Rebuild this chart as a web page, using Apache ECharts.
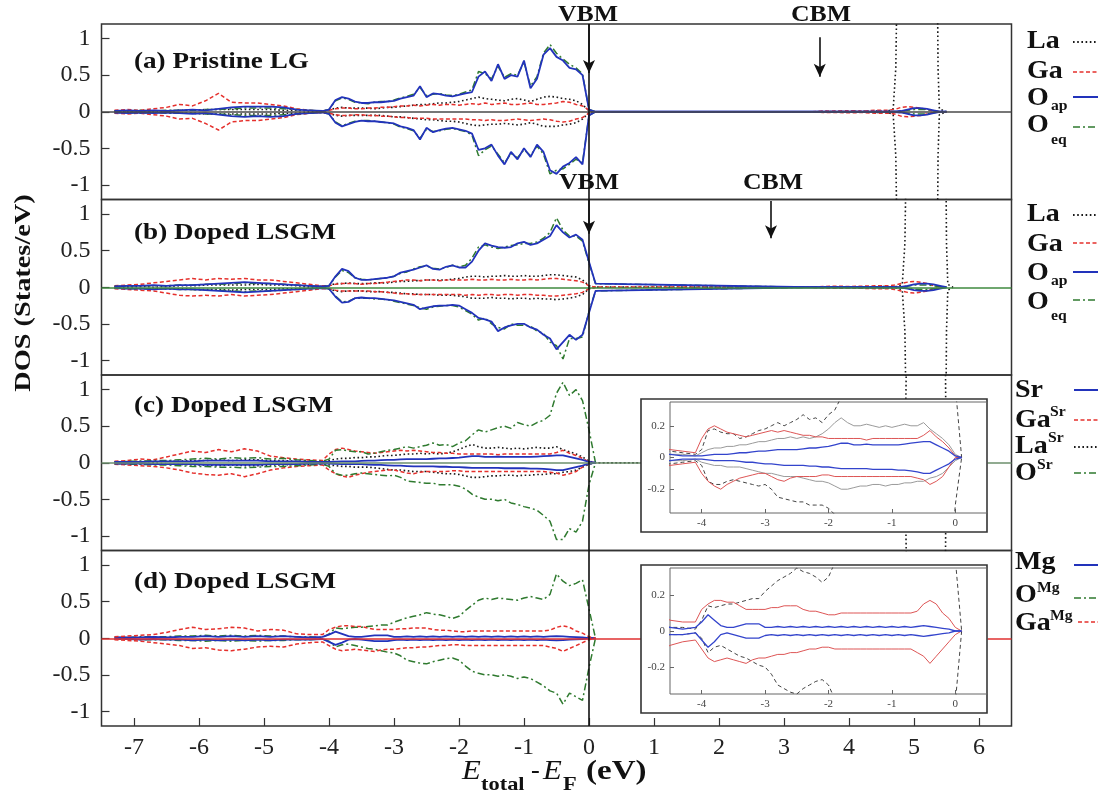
<!DOCTYPE html>
<html><head><meta charset="utf-8">
<script src="https://cdn.jsdelivr.net/npm/echarts@6/dist/echarts.min.js"></script>
<style>html,body{margin:0;padding:0;background:#fff}#c{width:1100px;height:796px}</style>
</head><body><div id="c"></div><script>
// ---------- axes / ticks ----------
const xTicks = [-7,-6,-5,-4,-3,-2,-1,0,1,2,3,4,5,6];
const yTicks = [-1,-0.5,0,0.5,1];
const insetXTicks = [-4,-3,-2,-1,0];
const insetYTicks = [-0.2,0,0.2];
const cbmArrowE = [3.55, 2.8];

// ---------- energy grids ----------
const E_VB = [-7.3,-7.1,-6.9,-6.7,-6.5,-6.3,-6.1,-5.9,-5.7,-5.5,
  -5.3,-5.1,-4.9,-4.7,-4.5,-4.3,-4.1,
  -4.0,-3.9,-3.8,-3.7,-3.6,-3.5,-3.4,-3.3,-3.2,-3.1,
  -3.0,-2.9,-2.8,-2.7,-2.6,-2.5,-2.4,-2.3,-2.2,-2.1,
  -2.0,-1.9,-1.8,-1.7,-1.6,-1.5,-1.4,-1.3,-1.2,-1.1,
  -1.0,-0.9,-0.8,-0.7,-0.6,-0.5,-0.4,-0.3,-0.2,-0.1,
  0.0,0.1];
const E_CB = [3.4,3.6,3.8,4.0,4.2,4.4,4.6,4.7,4.8,4.9,5.0,5.1,5.2,5.3,5.4,5.5];

// ---------- (a) Pristine LG ----------
const aOapUp = [0.01,0.02,0.01,0.02,0.01,0.02,0.03,0.02,0.04,0.06,
  0.07,0.07,0.07,0.06,0.03,0.02,0.01,
  0.03,0.16,0.2,0.18,0.14,0.12,0.12,0.13,0.13,0.14,
  0.15,0.18,0.2,0.22,0.35,0.2,0.25,0.24,0.22,0.21,
  0.23,0.25,0.27,0.48,0.55,0.42,0.65,0.45,0.5,0.48,
  0.7,0.32,0.45,0.78,0.87,0.75,0.7,0.6,0.58,0.5,
  0.03,0];
const aOapDn = [-0.01,-0.02,-0.01,-0.02,-0.01,-0.02,-0.03,-0.02,-0.04,-0.06,
  -0.07,-0.06,-0.07,-0.06,-0.03,-0.02,-0.01,
  -0.03,-0.15,-0.2,-0.17,-0.14,-0.12,-0.13,-0.13,-0.14,-0.15,
  -0.16,-0.2,-0.22,-0.25,-0.38,-0.22,-0.28,-0.25,-0.23,-0.22,
  -0.24,-0.26,-0.3,-0.52,-0.5,-0.45,-0.6,-0.72,-0.55,-0.65,
  -0.5,-0.62,-0.45,-0.55,-0.8,-0.85,-0.75,-0.7,-0.62,-0.72,
  -0.05,0];
const aOeqUp = [0.01,0.01,0.02,0.01,0.02,0.02,0.02,0.03,0.03,0.04,
  0.05,0.05,0.05,0.04,0.03,0.02,0.01,
  0.03,0.15,0.19,0.17,0.13,0.12,0.11,0.13,0.14,0.14,
  0.16,0.19,0.21,0.24,0.33,0.22,0.24,0.25,0.23,0.22,
  0.24,0.27,0.3,0.55,0.52,0.45,0.62,0.47,0.52,0.5,
  0.68,0.35,0.48,0.8,0.92,0.8,0.72,0.65,0.6,0.52,
  0.03,0];
const aOeqDn = [-0.01,-0.01,-0.02,-0.01,-0.02,-0.02,-0.02,-0.03,-0.03,-0.04,
  -0.05,-0.05,-0.05,-0.04,-0.03,-0.02,-0.01,
  -0.03,-0.14,-0.19,-0.16,-0.13,-0.12,-0.12,-0.13,-0.14,-0.15,
  -0.17,-0.21,-0.23,-0.26,-0.36,-0.24,-0.27,-0.26,-0.24,-0.23,
  -0.25,-0.27,-0.32,-0.6,-0.52,-0.47,-0.58,-0.7,-0.57,-0.63,
  -0.52,-0.6,-0.47,-0.58,-0.85,-0.8,-0.78,-0.72,-0.65,-0.7,
  -0.05,0];
const aLaUp = [0.01,0.01,0.01,0.01,0.01,0.02,0.02,0.03,0.03,0.03,
  0.03,0.03,0.03,0.02,0.02,0.01,0.01,
  0.02,0.05,0.06,0.05,0.05,0.05,0.05,0.04,0.05,0.06,
  0.06,0.07,0.08,0.09,0.1,0.1,0.11,0.12,0.12,0.13,
  0.14,0.16,0.18,0.2,0.18,0.17,0.16,0.15,0.17,0.18,
  0.16,0.14,0.17,0.2,0.21,0.2,0.18,0.17,0.15,0.1,
  0.01,0];
const aLaDn = [-0.01,-0.01,-0.01,-0.01,-0.01,-0.02,-0.02,-0.03,-0.03,-0.03,
  -0.03,-0.03,-0.03,-0.02,-0.02,-0.01,-0.01,
  -0.02,-0.05,-0.06,-0.05,-0.05,-0.05,-0.05,-0.05,-0.05,-0.06,
  -0.07,-0.07,-0.08,-0.09,-0.1,-0.11,-0.11,-0.12,-0.13,-0.13,
  -0.14,-0.16,-0.18,-0.19,-0.18,-0.17,-0.17,-0.16,-0.17,-0.18,
  -0.17,-0.15,-0.17,-0.2,-0.2,-0.2,-0.18,-0.17,-0.15,-0.1,
  -0.01,0];
const aGaUp = [0.02,0.03,0.02,0.04,0.06,0.1,0.08,0.15,0.25,0.13,
  0.12,0.12,0.1,0.08,0.04,0.02,0.01,
  0.02,0.04,0.05,0.05,0.04,0.04,0.05,0.05,0.06,0.06,
  0.07,0.08,0.08,0.09,0.08,0.09,0.1,0.09,0.1,0.1,
  0.09,0.1,0.11,0.1,0.12,0.1,0.11,0.12,0.1,0.1,
  0.11,0.12,0.1,0.1,0.11,0.12,0.14,0.13,0.1,0.08,
  0.02,0];
const aGaDn = [-0.02,-0.03,-0.02,-0.04,-0.06,-0.1,-0.09,-0.16,-0.25,-0.14,
  -0.12,-0.12,-0.1,-0.08,-0.04,-0.02,-0.01,
  -0.02,-0.04,-0.05,-0.05,-0.04,-0.04,-0.05,-0.05,-0.06,-0.06,
  -0.07,-0.08,-0.08,-0.09,-0.09,-0.09,-0.1,-0.1,-0.1,-0.1,
  -0.1,-0.1,-0.11,-0.11,-0.12,-0.11,-0.12,-0.12,-0.11,-0.1,
  -0.11,-0.12,-0.11,-0.1,-0.11,-0.13,-0.14,-0.13,-0.1,-0.08,
  -0.02,0];
const aGaCBUp = [0,0.01,0.01,0.015,0.01,0.02,0.02,0.03,0.06,0.07,0.06,0.05,0.03,0.01,0,0];
const aGaCBDn = [0,-0.01,-0.01,-0.015,-0.01,-0.02,-0.02,-0.03,-0.06,-0.07,-0.06,-0.05,-0.03,-0.01,0,0];
const aOapCBUp = [0,0,0,0,0,0,0,0.005,0.01,0.03,0.05,0.05,0.04,0.02,0,0];
const aOapCBDn = [0,0,0,0,0,0,0,-0.005,-0.01,-0.03,-0.05,-0.05,-0.04,-0.02,0,0];
const aOeqCBUp = [0,0,0,0,0,0,0,0.005,0.01,0.02,0.03,0.03,0.03,0.015,0,0];
const aOeqCBDn = [0,0,0,0,0,0,0,-0.005,-0.01,-0.02,-0.03,-0.03,-0.03,-0.015,0,0];
const aLaCB_E = [3.4,4.0,4.6,4.68,4.72,4.76,5.35,5.37,5.39,5.5];
const aLaCBUp = [0,0.005,0.01,0.04,0.6,3,3,0.6,0.04,0];
const aLaCBDn = [0,-0.005,-0.01,-0.04,-0.6,-3,-3,-0.6,-0.04,0];

// ---------- (b) Doped LSGM ----------
const bOapUp = [0.01,0.02,0.02,0.03,0.02,0.03,0.03,0.04,0.05,0.06,
  0.07,0.06,0.05,0.04,0.03,0.02,0.01,
  0.02,0.15,0.25,0.22,0.13,0.1,0.1,0.11,0.12,0.13,
  0.15,0.2,0.22,0.24,0.27,0.3,0.25,0.24,0.28,0.3,
  0.27,0.27,0.35,0.5,0.6,0.57,0.55,0.54,0.55,0.6,
  0.62,0.58,0.6,0.65,0.7,0.85,0.75,0.68,0.72,0.65,
  0.35,0.05];
const bOapDn = [-0.01,-0.02,-0.02,-0.03,-0.02,-0.03,-0.03,-0.04,-0.05,-0.06,
  -0.07,-0.06,-0.05,-0.04,-0.03,-0.02,-0.01,
  -0.02,-0.13,-0.21,-0.2,-0.15,-0.14,-0.15,-0.15,-0.16,-0.17,
  -0.18,-0.2,-0.22,-0.24,-0.3,-0.28,-0.26,-0.25,-0.25,-0.24,
  -0.25,-0.3,-0.35,-0.42,-0.44,-0.47,-0.6,-0.55,-0.52,-0.5,
  -0.5,-0.55,-0.58,-0.65,-0.7,-0.85,-0.75,-0.65,-0.72,-0.65,
  -0.35,-0.05];
const bOeqUp = [0.01,0.02,0.02,0.02,0.02,0.03,0.03,0.04,0.04,0.05,
  0.06,0.05,0.05,0.04,0.03,0.02,0.01,
  0.02,0.14,0.23,0.2,0.13,0.11,0.1,0.11,0.12,0.13,
  0.15,0.19,0.21,0.25,0.28,0.29,0.26,0.25,0.27,0.3,
  0.28,0.3,0.4,0.55,0.58,0.55,0.53,0.55,0.57,0.58,
  0.6,0.6,0.62,0.67,0.75,0.95,0.78,0.7,0.7,0.63,
  0.33,0.05];
const bOeqDn = [-0.01,-0.02,-0.02,-0.02,-0.02,-0.03,-0.03,-0.04,-0.04,-0.05,
  -0.06,-0.05,-0.05,-0.04,-0.03,-0.02,-0.01,
  -0.02,-0.12,-0.2,-0.19,-0.15,-0.15,-0.15,-0.16,-0.16,-0.17,
  -0.19,-0.21,-0.23,-0.25,-0.28,-0.3,-0.27,-0.26,-0.25,-0.25,
  -0.27,-0.32,-0.37,-0.45,-0.42,-0.5,-0.55,-0.57,-0.5,-0.52,
  -0.52,-0.53,-0.6,-0.63,-0.75,-0.8,-0.98,-0.7,-0.7,-0.68,
  -0.33,-0.05];
const bLaUp = [0.01,0.01,0.01,0.02,0.01,0.02,0.02,0.03,0.03,0.03,
  0.03,0.04,0.03,0.03,0.02,0.01,0.01,
  0.02,0.05,0.05,0.06,0.05,0.05,0.05,0.06,0.06,0.06,
  0.07,0.08,0.08,0.09,0.09,0.1,0.1,0.1,0.1,0.11,
  0.12,0.14,0.15,0.15,0.14,0.15,0.15,0.16,0.15,0.15,
  0.16,0.15,0.15,0.16,0.17,0.17,0.16,0.15,0.14,0.1,
  0.02,0];
const bLaDn = [-0.01,-0.01,-0.02,-0.01,-0.02,-0.02,-0.03,-0.03,-0.03,-0.04,
  -0.03,-0.03,-0.03,-0.02,-0.02,-0.01,-0.01,
  -0.02,-0.05,-0.06,-0.05,-0.05,-0.05,-0.06,-0.06,-0.06,-0.07,
  -0.07,-0.08,-0.09,-0.09,-0.1,-0.1,-0.1,-0.11,-0.11,-0.11,
  -0.12,-0.13,-0.15,-0.15,-0.15,-0.14,-0.15,-0.15,-0.16,-0.15,
  -0.15,-0.16,-0.15,-0.16,-0.16,-0.17,-0.16,-0.15,-0.13,-0.1,
  -0.02,0];
const bGaUp = [0.02,0.03,0.04,0.06,0.08,0.1,0.12,0.1,0.12,0.11,
  0.12,0.1,0.1,0.08,0.06,0.04,0.02,
  0.02,0.04,0.05,0.05,0.05,0.04,0.05,0.05,0.06,0.07,
  0.08,0.09,0.1,0.1,0.09,0.1,0.1,0.09,0.1,0.1,
  0.1,0.1,0.11,0.1,0.1,0.11,0.1,0.1,0.11,0.1,
  0.1,0.11,0.1,0.11,0.12,0.12,0.11,0.1,0.09,0.07,
  0.02,0];
const bGaDn = [-0.02,-0.03,-0.04,-0.05,-0.08,-0.11,-0.12,-0.11,-0.12,-0.1,
  -0.12,-0.11,-0.1,-0.08,-0.06,-0.04,-0.02,
  -0.02,-0.04,-0.05,-0.05,-0.05,-0.05,-0.05,-0.06,-0.06,-0.07,
  -0.08,-0.09,-0.09,-0.1,-0.1,-0.1,-0.1,-0.1,-0.1,-0.1,
  -0.1,-0.11,-0.1,-0.11,-0.1,-0.1,-0.11,-0.1,-0.1,-0.11,
  -0.1,-0.1,-0.11,-0.11,-0.12,-0.12,-0.11,-0.1,-0.09,-0.07,
  -0.02,0];
const bGaCBUp = [0,0.01,0.015,0.01,0.015,0.02,0.02,0.03,0.05,0.07,0.08,0.07,0.05,0.02,0.01,0];
const bGaCBDn = [0,-0.01,-0.015,-0.01,-0.015,-0.02,-0.02,-0.03,-0.05,-0.07,-0.08,-0.07,-0.05,-0.02,-0.01,0];
const bOapCBUp = [0,0,0,0,0,0,0,0,0.005,0.02,0.04,0.05,0.05,0.04,0.02,0];
const bOapCBDn = [0,0,0,0,0,0,0,0,-0.005,-0.02,-0.04,-0.05,-0.05,-0.04,-0.02,0];
const bOeqCBUp = [0,0,0,0,0,0,0,0,0.005,0.015,0.03,0.03,0.03,0.02,0.01,0];
const bOeqCBDn = [0,0,0,0,0,0,0,0,-0.005,-0.015,-0.03,-0.03,-0.03,-0.02,-0.01,0];
const bLaCB_E = [3.6,4.2,4.75,4.82,4.86,4.9,5.48,5.5,5.52,5.6];
const bLaCBUp = [0,0.005,0.01,0.04,0.6,3,3,0.6,0.04,0];
const bLaCBDn = [0,-0.005,-0.01,-0.04,-0.6,-3,-3,-0.6,-0.04,0];

// ---------- (c) Doped LSGM, Sr site ----------
const cSrUp = [0.01,0.01,0.01,0.02,0.02,0.02,0.02,0.03,0.03,0.03,
  0.03,0.03,0.02,0.02,0.02,0.01,0.01,
  0.01,0.015,0.02,0.02,0.02,0.025,0.03,0.03,0.035,0.04,
  0.04,0.045,0.05,0.05,0.05,0.05,0.055,0.06,0.06,0.065,
  0.07,0.08,0.09,0.09,0.08,0.08,0.085,0.08,0.08,0.08,
  0.08,0.08,0.085,0.09,0.095,0.1,0.1,0.08,0.06,0.04,
  0.01,0];
const cSrDn = [-0.01,-0.01,-0.01,-0.02,-0.02,-0.02,-0.02,-0.03,-0.03,-0.03,
  -0.03,-0.03,-0.02,-0.02,-0.02,-0.01,-0.01,
  -0.01,-0.015,-0.02,-0.02,-0.02,-0.02,-0.025,-0.03,-0.03,-0.035,
  -0.04,-0.04,-0.045,-0.05,-0.05,-0.05,-0.05,-0.055,-0.055,-0.06,
  -0.06,-0.065,-0.07,-0.07,-0.07,-0.07,-0.07,-0.075,-0.075,-0.075,
  -0.075,-0.08,-0.08,-0.085,-0.09,-0.1,-0.1,-0.08,-0.06,-0.04,
  -0.01,0];
const cGaUp = [0.02,0.03,0.05,0.04,0.08,0.12,0.16,0.14,0.18,0.15,
  0.19,0.16,0.09,0.07,0.05,0.04,0.03,
  0.12,0.18,0.2,0.18,0.16,0.15,0.14,0.13,0.14,0.15,
  0.16,0.17,0.16,0.17,0.16,0.15,0.14,0.14,0.13,0.13,
  0.12,0.12,0.12,0.12,0.12,0.12,0.11,0.12,0.12,0.12,
  0.12,0.12,0.12,0.12,0.12,0.14,0.17,0.13,0.1,0.06,
  0.01,0];
const cGaDn = [-0.02,-0.03,-0.04,-0.05,-0.07,-0.1,-0.14,-0.16,-0.17,-0.15,
  -0.19,-0.15,-0.1,-0.07,-0.05,-0.04,-0.03,
  -0.1,-0.15,-0.18,-0.2,-0.17,-0.15,-0.13,-0.12,-0.11,-0.1,
  -0.1,-0.12,-0.14,-0.15,-0.13,-0.12,-0.12,-0.12,-0.12,-0.11,
  -0.11,-0.12,-0.12,-0.12,-0.12,-0.12,-0.12,-0.12,-0.12,-0.12,
  -0.12,-0.12,-0.12,-0.12,-0.13,-0.14,-0.17,-0.15,-0.12,-0.06,
  0,0];
const cLaUp = [0.01,0.01,0.02,0.01,0.02,0.02,0.03,0.03,0.04,0.03,
  0.04,0.04,0.03,0.03,0.02,0.02,0.01,
  0.03,0.05,0.06,0.06,0.07,0.07,0.08,0.08,0.09,0.1,
  0.1,0.11,0.12,0.12,0.13,0.12,0.13,0.12,0.13,0.15,
  0.18,0.22,0.25,0.22,0.2,0.2,0.21,0.2,0.19,0.2,
  0.19,0.2,0.21,0.2,0.2,0.22,0.18,0.15,0.12,0.08,
  0.02,0];
const cLaDn = [-0.01,-0.01,-0.02,-0.01,-0.02,-0.02,-0.03,-0.03,-0.04,-0.03,
  -0.04,-0.04,-0.03,-0.03,-0.02,-0.02,-0.01,
  -0.03,-0.04,-0.05,-0.05,-0.06,-0.06,-0.06,-0.07,-0.08,-0.09,
  -0.1,-0.1,-0.11,-0.12,-0.12,-0.12,-0.13,-0.14,-0.15,-0.15,
  -0.16,-0.18,-0.2,-0.2,-0.19,-0.18,-0.18,-0.17,-0.17,-0.18,
  -0.17,-0.17,-0.16,-0.16,-0.15,-0.15,-0.13,-0.12,-0.1,-0.06,
  -0.02,0];
const cOUp = [0.01,0.02,0.02,0.03,0.03,0.04,0.05,0.06,0.05,0.07,
  0.06,0.07,0.05,0.06,0.04,0.03,0.02,
  0.05,0.17,0.18,0.16,0.15,0.15,0.12,0.13,0.15,0.17,
  0.18,0.2,0.22,0.2,0.22,0.24,0.27,0.24,0.25,0.22,
  0.27,0.3,0.38,0.45,0.42,0.45,0.48,0.5,0.47,0.55,
  0.52,0.5,0.55,0.58,0.65,0.95,1.1,0.92,1.0,0.85,
  0.45,0];
const cODn = [-0.01,-0.02,-0.02,-0.03,-0.03,-0.04,-0.05,-0.05,-0.06,-0.06,
  -0.07,-0.06,-0.05,-0.05,-0.04,-0.03,-0.02,
  -0.05,-0.15,-0.17,-0.17,-0.15,-0.14,-0.15,-0.16,-0.17,-0.18,
  -0.17,-0.2,-0.25,-0.26,-0.27,-0.28,-0.28,-0.3,-0.3,-0.3,
  -0.32,-0.36,-0.43,-0.47,-0.5,-0.5,-0.52,-0.5,-0.55,-0.57,
  -0.6,-0.62,-0.65,-0.72,-0.8,-1.05,-1.05,-0.9,-0.95,-0.8,
  -0.3,0];
const cLaCB_E = [3.6,4.2,4.75,4.83,4.87,4.91,5.47,5.49,5.51,5.6];
const cLaCBUp = [0,0.005,0.01,0.04,0.6,3,3,0.6,0.04,0];
const cLaCBDn = [0,-0.005,-0.01,-0.04,-0.6,-3,-3,-0.6,-0.04,0];

// ---------- (d) Doped LSGM, Mg site ----------
const dMgUp = [0.01,0.01,0.01,0.02,0.01,0.02,0.02,0.03,0.02,0.03,
  0.02,0.03,0.02,0.03,0.02,0.01,0.02,
  0.05,0.09,0.06,0.03,0.02,0.02,0.03,0.04,0.04,0.04,
  0.02,0.02,0.025,0.02,0.025,0.02,0.025,0.02,0.025,0.02,
  0.025,0.02,0.025,0.02,0.025,0.02,0.025,0.02,0.025,0.02,
  0.025,0.02,0.025,0.02,0.025,0.03,0.025,0.02,0.015,0.01,
  0,0];
const dMgDn = [-0.01,-0.01,-0.02,-0.01,-0.02,-0.02,-0.03,-0.02,-0.03,-0.02,
  -0.03,-0.02,-0.03,-0.02,-0.02,-0.02,-0.01,
  -0.05,-0.09,-0.06,-0.02,-0.01,-0.02,-0.03,-0.04,-0.04,-0.04,
  -0.025,-0.02,-0.025,-0.02,-0.025,-0.02,-0.025,-0.02,-0.025,-0.02,
  -0.025,-0.02,-0.025,-0.02,-0.025,-0.02,-0.025,-0.02,-0.025,-0.02,
  -0.025,-0.02,-0.025,-0.02,-0.025,-0.03,-0.025,-0.02,-0.015,-0.01,
  0,0];
const dOUp = [0.01,0.01,0.02,0.02,0.02,0.03,0.03,0.04,0.03,0.04,
  0.03,0.04,0.03,0.03,0.02,0.02,0.01,
  0.06,0.14,0.13,0.14,0.15,0.15,0.16,0.17,0.18,0.18,
  0.22,0.25,0.28,0.3,0.32,0.35,0.33,0.32,0.3,0.27,
  0.3,0.38,0.45,0.52,0.55,0.53,0.55,0.54,0.53,0.52,
  0.55,0.57,0.55,0.53,0.6,0.88,0.78,0.72,0.75,0.8,
  0.4,0];
const dODn = [-0.01,-0.01,-0.02,-0.02,-0.02,-0.03,-0.03,-0.04,-0.03,-0.04,
  -0.03,-0.04,-0.03,-0.03,-0.02,-0.02,-0.01,
  -0.04,-0.12,-0.09,-0.08,-0.1,-0.12,-0.14,-0.15,-0.17,-0.19,
  -0.2,-0.24,-0.3,-0.32,-0.34,-0.35,-0.32,-0.3,-0.28,-0.27,
  -0.3,-0.38,-0.45,-0.48,-0.5,-0.5,-0.52,-0.5,-0.52,-0.55,
  -0.53,-0.55,-0.6,-0.65,-0.72,-0.75,-0.9,-0.75,-0.8,-0.85,
  -0.4,0];
const dGaUp = [0.02,0.03,0.04,0.05,0.08,0.12,0.15,0.12,0.13,0.15,
  0.14,0.1,0.12,0.11,0.06,0.05,0.05,
  0.12,0.15,0.17,0.17,0.16,0.16,0.14,0.12,0.12,0.12,
  0.12,0.13,0.13,0.14,0.14,0.14,0.12,0.11,0.11,0.1,
  0.09,0.09,0.1,0.1,0.1,0.1,0.1,0.1,0.1,0.1,
  0.1,0.1,0.1,0.1,0.11,0.15,0.17,0.15,0.1,0.07,
  0.02,0];
const dGaDn = [-0.02,-0.03,-0.04,-0.06,-0.08,-0.1,-0.14,-0.13,-0.16,-0.17,
  -0.15,-0.12,-0.11,-0.12,-0.08,-0.06,-0.05,
  -0.1,-0.15,-0.17,-0.16,-0.15,-0.16,-0.17,-0.18,-0.16,-0.15,
  -0.15,-0.14,-0.13,-0.13,-0.12,-0.12,-0.11,-0.1,-0.1,-0.09,
  -0.09,-0.1,-0.1,-0.1,-0.1,-0.1,-0.1,-0.1,-0.1,-0.1,
  -0.1,-0.1,-0.1,-0.1,-0.12,-0.14,-0.18,-0.14,-0.1,-0.06,
  -0.02,0];

// ---------- font detection ----------
function hasFont(f) {
  const c = document.createElement('canvas').getContext('2d');
  const s = 'mmmmmiiiiilWW@#0.5';
  c.font = '40px monospace'; const w0 = c.measureText(s).width;
  c.font = '40px "' + f + '", monospace'; const w1 = c.measureText(s).width;
  c.font = '40px sans-serif'; const w2 = c.measureText(s).width;
  c.font = '40px "' + f + '", sans-serif'; const w3 = c.measureText(s).width;
  return w0 !== w1 || w2 !== w3;
}
const cands = ['Liberation Serif','Times New Roman','Tinos','Nimbus Roman','Nimbus Roman No9 L','FreeSerif','DejaVu Serif'];
let FAM = 'DejaVu Serif';
for (const f of cands) { if (hasFont(f)) { FAM = f; break; } }
const WIDE = (FAM === 'DejaVu Serif');
const K = WIDE ? 0.84 : 1;           // width compensation for wide fallback font
const FONT = '"' + FAM + '", serif';
const TICKFS = WIDE ? 21 : 24;

// ---------- build ----------
const pts = (E, v) => E.map((e, i) => [e, v[i]]);
const ST = {
  La:  {color:'#1a1a1a', type:[1.6,2.6], width:1.6},
  Ga:  {color:'#e5302c', type:[4,2.5], width:1.5},
  Oap: {color:'#2233bb', type:'solid', width:1.8},
  Oeq: {color:'#2f7a2f', type:[7,3,2,3], width:1.5},
  iO:  {color:'#444444', type:[4,3], width:1},
  iLa: {color:'#9a9a9a', type:'solid', width:1},
  iGa: {color:'#dd5555', type:'solid', width:1},
  iSr: {color:'#3344cc', type:'solid', width:1.3}
};
function ser(gi, data, st, z) {
  return {type:'line', xAxisIndex:gi, yAxisIndex:gi, data, symbol:'none', showSymbol:false,
    lineStyle:{color:st.color, type:st.type, width:st.width}, itemStyle:{color:st.color},
    z: z || 2, silent:true, animation:false};
}
function deco(gi, markData, z, opts) {
  return {type:'line', xAxisIndex:gi, yAxisIndex:gi, data:[], z: z || 3, silent:true, animation:false,
    markLine: Object.assign({silent:true, symbol:'none', label:{show:false}, animation:false, data:markData}, opts || {})};
}
const series = [];
// panel a
series.push(ser(0, pts(E_VB,aLaUp).concat(pts(aLaCB_E,aLaCBUp)), ST.La));
series.push(ser(0, pts(E_VB,aLaDn).concat(pts(aLaCB_E,aLaCBDn)), ST.La));
series.push(ser(0, pts(E_VB,aGaUp).concat(pts(E_CB,aGaCBUp)), ST.Ga));
series.push(ser(0, pts(E_VB,aGaDn).concat(pts(E_CB,aGaCBDn)), ST.Ga));
series.push(ser(0, pts(E_VB,aOeqUp).concat(pts(E_CB,aOeqCBUp)), ST.Oeq));
series.push(ser(0, pts(E_VB,aOeqDn).concat(pts(E_CB,aOeqCBDn)), ST.Oeq));
series.push(ser(0, pts(E_VB,aOapUp).concat(pts(E_CB,aOapCBUp)), ST.Oap));
series.push(ser(0, pts(E_VB,aOapDn).concat(pts(E_CB,aOapCBDn)), ST.Oap));
// panel b
series.push(ser(1, pts(E_VB,bLaUp).concat(pts(bLaCB_E,bLaCBUp)), ST.La));
series.push(ser(1, pts(E_VB,bLaDn).concat(pts(bLaCB_E,bLaCBDn)), ST.La));
series.push(ser(1, pts(E_VB,bGaUp).concat(pts(E_CB,bGaCBUp)), ST.Ga));
series.push(ser(1, pts(E_VB,bGaDn).concat(pts(E_CB,bGaCBDn)), ST.Ga));
series.push(ser(1, pts(E_VB,bOeqUp).concat(pts(E_CB,bOeqCBUp)), ST.Oeq));
series.push(ser(1, pts(E_VB,bOeqDn).concat(pts(E_CB,bOeqCBDn)), ST.Oeq));
series.push(ser(1, pts(E_VB,bOapUp).concat(pts(E_CB,bOapCBUp)), ST.Oap));
series.push(ser(1, pts(E_VB,bOapDn).concat(pts(E_CB,bOapCBDn)), ST.Oap));
// panel c
series.push(ser(2, pts(E_VB,cLaUp).concat(pts(cLaCB_E,cLaCBUp)), ST.La));
series.push(ser(2, pts(E_VB,cLaDn).concat(pts(cLaCB_E,cLaCBDn)), ST.La));
series.push(ser(2, pts(E_VB,cGaUp), ST.Ga));
series.push(ser(2, pts(E_VB,cGaDn), ST.Ga));
series.push(ser(2, pts(E_VB,cOUp), ST.Oeq));
series.push(ser(2, pts(E_VB,cODn), ST.Oeq));
series.push(ser(2, pts(E_VB,cSrUp), ST.Oap));
series.push(ser(2, pts(E_VB,cSrDn), ST.Oap));
// panel d
series.push(ser(3, pts(E_VB,dOUp), ST.Oeq));
series.push(ser(3, pts(E_VB,dODn), ST.Oeq));
series.push(ser(3, pts(E_VB,dMgUp), ST.Oap));
series.push(ser(3, pts(E_VB,dMgDn), ST.Oap));
series.push(ser(3, pts(E_VB,dGaUp), ST.Ga));
series.push(ser(3, pts(E_VB,dGaDn), ST.Ga));
// zero lines + VBM line
const zeroCols = ['#4a4a4a','#3f8a3f','#6d8f6d','#e03030'];
for (let g = 0; g < 4; g++) {
  series.push(deco(g, [
    {yAxis:0, lineStyle:{color:zeroCols[g], width:1.6, type:'solid'}},
    {xAxis:0, lineStyle:{color:'#111', width:1.6, type:'solid'}}
  ], 4));
}
// VBM / CBM arrows
const arrowOpts = {symbol:['none','arrow'], symbolSize:[9,13], lineStyle:{color:'#111', width:1.6, type:'solid'}};
series.push(deco(0, [
  [{coord:[0,1.2]},{coord:[0,0.53]}],
  [{coord:[cbmArrowE[0],1.02]},{coord:[cbmArrowE[0],0.48]}]
], 5, arrowOpts));
series.push(deco(1, [
  [{coord:[0,1.2]},{coord:[0,0.73]}],
  [{coord:[cbmArrowE[1],1.18]},{coord:[cbmArrowE[1],0.67]}]
], 5, arrowOpts));
// insets
series.push(ser(4, pts(E_VB,cLaUp), ST.iLa, 13));
series.push(ser(4, pts(E_VB,cLaDn), ST.iLa, 13));
series.push(ser(4, pts(E_VB,cOUp), ST.iO, 13));
series.push(ser(4, pts(E_VB,cODn), ST.iO, 13));
series.push(ser(4, pts(E_VB,cGaUp), ST.iGa, 13));
series.push(ser(4, pts(E_VB,cGaDn), ST.iGa, 13));
series.push(ser(4, pts(E_VB,cSrUp), ST.iSr, 13));
series.push(ser(4, pts(E_VB,cSrDn), ST.iSr, 13));
series.push(ser(5, pts(E_VB,dOUp), ST.iO, 13));
series.push(ser(5, pts(E_VB,dODn), ST.iO, 13));
series.push(ser(5, pts(E_VB,dGaUp), ST.iGa, 13));
series.push(ser(5, pts(E_VB,dGaDn), ST.iGa, 13));
series.push(ser(5, pts(E_VB,dMgUp), ST.iSr, 13));
series.push(ser(5, pts(E_VB,dMgDn), ST.iSr, 13));
for (const g of [4,5]) {
  series.push(deco(g, [
    {yAxis:0, lineStyle:{color:'#aaa', width:1, type:'solid'}},
    {xAxis:0, lineStyle:{color:'#999', width:1.5, type:'solid'}}
  ], 12));
}

const mainTops = [24, 199.5, 375, 550.5];
const grids = mainTops.map(t => ({left:101.5, top:t, width:910, height:175.5, show:true,
  borderColor:'#333', borderWidth:1.5, backgroundColor:'transparent', z:1}));
grids.push({left:670, top:402, width:317, height:111, show:true, borderColor:'#666', borderWidth:1, z:11});
grids.push({left:670, top:568, width:317, height:126, show:true, borderColor:'#666', borderWidth:1, z:11});

const xAxes = [], yAxes = [];
for (let g = 0; g < 4; g++) {
  xAxes.push({type:'value', gridIndex:g, min:-7.5, max:6.5, show: g === 3, position:'bottom',
    axisLine:{show:false, onZero:false}, splitLine:{show:false},
    axisTick:{show:true, inside:true, length:8, customValues:xTicks, lineStyle:{color:'#333', width:1.2}},
    axisLabel:{show:true, customValues:xTicks, margin:10, fontFamily:FONT, fontSize:TICKFS, color:'#222'}});
  yAxes.push({type:'value', gridIndex:g, min:-1.2, max:1.2, position:'left',
    axisLine:{show:false, onZero:false}, splitLine:{show:false},
    axisTick:{show:true, inside:true, length:8, customValues:yTicks, lineStyle:{color:'#333', width:1.2}},
    axisLabel:{show:true, customValues:yTicks, margin:11, fontFamily:FONT, fontSize:TICKFS, color:'#222'}});
}
for (const g of [4,5]) {
  xAxes.push({type:'value', gridIndex:g, min:-4.5, max:0.5, z:12, position:'bottom',
    axisLine:{show:false, onZero:false}, splitLine:{show:false},
    axisTick:{show:true, inside:true, length:4, customValues:insetXTicks, lineStyle:{color:'#666'}},
    axisLabel:{show:true, customValues:insetXTicks, margin:5, fontFamily:FONT, fontSize:11, color:'#444'}});
  yAxes.push({type:'value', gridIndex:g, min:-0.35, max:0.35, z:12, position:'left',
    axisLine:{show:false, onZero:false}, splitLine:{show:false},
    axisTick:{show:true, inside:true, length:4, customValues:insetYTicks, lineStyle:{color:'#666'}},
    axisLabel:{show:true, customValues:insetYTicks, margin:5, fontFamily:FONT, fontSize:11, color:'#444'}});
}

// ---------- text / legend graphics ----------
function txt(s, x, y, size, o) {
  o = o || {};
  return {type:'text', x, y, z:50, scaleX: (o.sx || 1.12) * K, rotation: o.rot || 0, silent:true,
    style:{text:s, x:0, y:0, fill:'#111', textAlign:o.align || 'left', textVerticalAlign:'middle',
      font:(o.it ? 'italic ' : '') + (o.nb ? '' : 'bold ') + size + 'px ' + FONT}};
}
function seg(x1, y, st) {
  return {type:'line', z:50, silent:true, shape:{x1:x1, y1:y, x2:1098, y2:y},
    style:{stroke:st.color, lineWidth:st.width + 0.2, lineDash: st.type === 'solid' ? null : st.type}};
}
const G = [];
// inset boxes
G.push({type:'rect', z:10, silent:true, shape:{x:641, y:399, width:346, height:133}, style:{fill:'#fff', stroke:'#333', lineWidth:1.6}});
G.push({type:'rect', z:10, silent:true, shape:{x:641, y:565, width:346, height:148}, style:{fill:'#fff', stroke:'#333', lineWidth:1.6}});
// panel titles
G.push(txt('(a) Pristine LG', 134, 62, 23, {sx:1.18}));
G.push(txt('(b) Doped LSGM', 134, 233, 23, {sx:1.18}));
G.push(txt('(c) Doped LSGM', 134, 406, 23, {sx:1.18}));
G.push(txt('(d) Doped LSGM', 134, 582, 23, {sx:1.18}));
// VBM / CBM labels
G.push(txt('VBM', 588, 15, 23, {align:'center', sx:1.12}));
G.push(txt('CBM', 821, 15, 23, {align:'center', sx:1.12}));
G.push(txt('VBM', 589, 183, 23, {align:'center', sx:1.12}));
G.push(txt('CBM', 773, 183, 23, {align:'center', sx:1.12}));
// axis titles
G.push(txt('DOS (States/eV)', 24, 293, 24, {align:'center', rot:Math.PI/2, sx:1.18}));
G.push(txt('E', 462, 772, 28, {it:true, nb:true, sx:1.1}));
G.push(txt('total', 481, 785, 19, {sx:1.18}));
G.push(txt('-', 531, 772, 24, {sx:1.1}));
G.push(txt('E', 543, 772, 28, {it:true, nb:true, sx:1.1}));
G.push(txt('F', 563, 785, 19, {sx:1.18}));
G.push(txt('(eV)', 586, 772, 28, {sx:1.18}));
// legend (a)
G.push(txt('La', 1027, 42, 25), seg(1073, 42, ST.La));
G.push(txt('Ga', 1027, 72, 25), seg(1073, 72, ST.Ga));
G.push(txt('O', 1027, 99, 25), txt('ap', 1051, 106, 14), seg(1073, 97, ST.Oap));
G.push(txt('O', 1027, 126, 25), txt('eq', 1051, 140, 14), seg(1073, 127, ST.Oeq));
// legend (b)
G.push(txt('La', 1027, 215, 25), seg(1073, 215, ST.La));
G.push(txt('Ga', 1027, 245, 25), seg(1073, 243, ST.Ga));
G.push(txt('O', 1027, 274, 25), txt('ap', 1051, 281, 14), seg(1073, 272, ST.Oap));
G.push(txt('O', 1027, 303, 25), txt('eq', 1051, 316, 14), seg(1073, 300, ST.Oeq));
// legend (c)
G.push(txt('Sr', 1015, 391, 25), seg(1074, 390, ST.Oap));
G.push(txt('Ga', 1015, 421, 25), txt('Sr', 1050, 412, 14), seg(1074, 420, ST.Ga));
G.push(txt('La', 1015, 447, 25), txt('Sr', 1048, 438, 14), seg(1074, 447, ST.La));
G.push(txt('O', 1015, 474, 25), txt('Sr', 1037, 465, 14), seg(1074, 473, ST.Oeq));
// legend (d)
G.push(txt('Mg', 1015, 563, 25), seg(1074, 565, ST.Oap));
G.push(txt('O', 1015, 596, 25), txt('Mg', 1037, 588, 14), seg(1074, 598, ST.Oeq));
G.push(txt('Ga', 1015, 624, 25), txt('Mg', 1050, 616, 14), seg(1078, 622, ST.Ga));

const chart = echarts.init(document.getElementById('c'), null, {renderer:'canvas'});
chart.setOption({
  backgroundColor:'#fff',
  animation:false,
  grid: grids,
  xAxis: xAxes,
  yAxis: yAxes,
  series: series,
  graphic: {elements: G}
});
</script></body></html>
